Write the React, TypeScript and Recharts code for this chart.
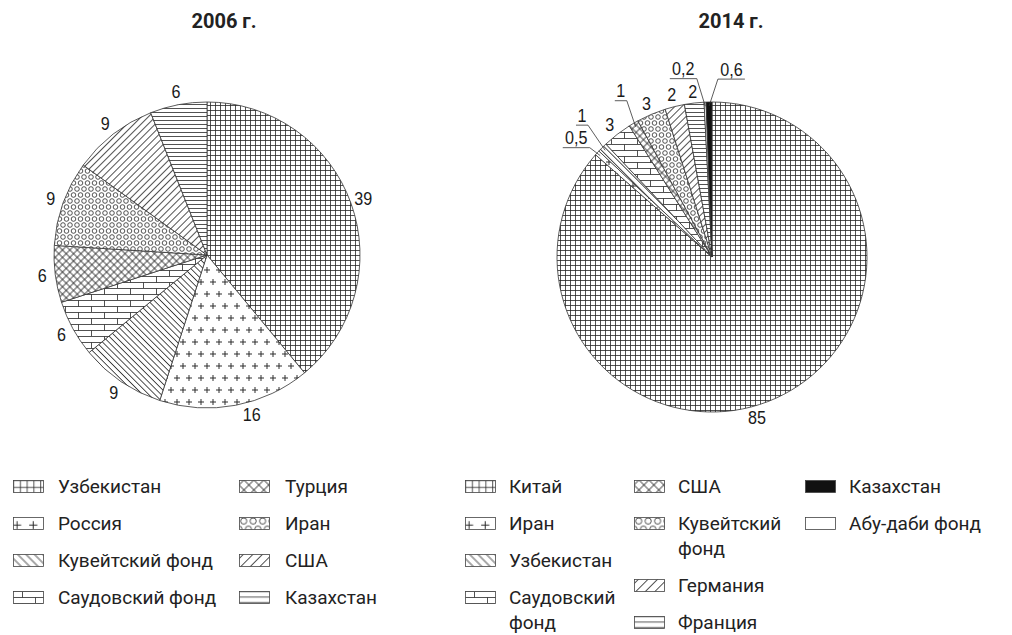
import React from 'react';
import { PieChart, Pie, Cell } from 'recharts';

// ---------- data ----------
const names2006 = ['Узбекистан', 'Россия', 'Кувейтский фонд', 'Саудовский фонд', 'Турция', 'Иран', 'США', 'Казахстан'];
const values2006 = [39, 16, 9, 6, 6, 9, 9, 6];
const fills2006 = ['grid', 'plus', 'back', 'brick', 'cross', 'circles', 'slash', 'hlines'];

const names2014 = ['Китай', 'Иран', 'Узбекистан', 'Саудовский фонд', 'США', 'Кувейтский фонд', 'Германия', 'Франция', 'Абу-даби фонд', 'Казахстан'];
const values2014 = [85, 0.5, 1, 3, 1, 3, 2, 2, 0.2, 0.6];
const fills2014 = ['grid', 'plus', 'back', 'brick', 'cross', 'circles', 'slash', 'hlines', 'white', 'black'];
const legendText2014 = ['Китай', 'Иран', 'Узбекистан', 'Саудовский\nфонд', 'США', 'Кувейтский\nфонд', 'Германия', 'Франция', 'Абу-даби фонд', 'Казахстан'];

const titles = ['2006 г.', '2014 г.'];

const legendCols2006 = [[0, 1, 2, 3], [4, 5, 6, 7]];
const legendCols2014 = [[0, 1, 2, 3], [4, 5, 6, 7], [9, 8]];

// ---------- layout helpers ----------
const RAD = Math.PI / 180;
const fmt = (v: number) => String(v).replace('.', ',');
const LABEL_FONT = "'Liberation Sans', Arimo, Arial, sans-serif";
const TEXT_FONT = "Roboto, 'Noto Sans', sans-serif";

const data2006 = names2006.map((name, i) => ({ name, value: values2006[i] }));
const data2014 = names2014.map((name, i) => ({ name, value: values2014[i] }));

// label angle nudges (degrees, counter‑clockwise) for a couple of plain labels
const nudge2006: Record<number, number> = { 1: 4.8 };
const nudge2014: Record<number, number> = { 0: -8.7 };
// leader-line labels for the thin 2014 slices
const leaderSpec: Record<number, { dr: number; da: number; dir: number }> = {
  1: { dr: 9, da: 0.4, dir: -1 },
  2: { dr: 26, da: -1.8, dir: -1 },
  4: { dr: 23, da: -1.8, dir: -1 },
  8: { dr: 24, da: 2.3, dir: -1 },
  9: { dr: 23, da: -3, dir: 1 },
};

const NarrowText = ({ x, y, children }: { x: number; y: number; children: React.ReactNode }) => (
  <text transform={`translate(${x},${y}) scale(0.85,1)`} x={0} y={0} textAnchor="middle" dominantBaseline="central"
    fontFamily={LABEL_FONT} fontSize={19} fill="#1a1a1a">
    {children}
  </text>
);

const plainLabel = (values: number[], nudge: Record<number, number>, gap: number) => (props: any) => {
  const { cx, cy, midAngle, outerRadius, index } = props;
  const a = (midAngle + (nudge[index] || 0)) * RAD;
  const r = outerRadius + gap;
  const x = cx + r * Math.cos(a);
  const y = cy - r * Math.sin(a);
  return (
    <g key={`l${index}`}>
      <NarrowText x={x} y={y}>{fmt(values[index])}</NarrowText>
    </g>
  );
};

const label2014 = (props: any) => {
  const { cx, cy, midAngle, outerRadius, index } = props;
  const spec = leaderSpec[index];
  if (!spec) return plainLabel(values2014, nudge2014, 12)(props);
  const a0 = midAngle * RAD;
  const sx = cx + (outerRadius - 4) * Math.cos(a0);
  const sy = cy - (outerRadius - 4) * Math.sin(a0);
  const a1 = (midAngle + spec.da) * RAD;
  const r1 = outerRadius + spec.dr;
  const ex = cx + r1 * Math.cos(a1);
  const ey = cy - r1 * Math.sin(a1);
  const txt = fmt(values2014[index]);
  const len = txt.length === 1 ? 12 : 27;
  const ux = ex + spec.dir * len;
  return (
    <g key={`l${index}`}>
      <polyline points={`${sx},${sy} ${ex},${ey} ${ux},${ey}`} fill="none" stroke="#333" strokeWidth={0.8} />
      <NarrowText x={(ex + ux) / 2} y={ey - 10}>{txt}</NarrowText>
    </g>
  );
};

// ---------- patterns ----------
const STROKE = '#262626';
const makePatterns = (prefix: string, s: number) => {
  const sw = 0.8 / s;
  const t = (extra = '') => `${extra} scale(${s})`.trim();
  return [
    <pattern key="grid" id={prefix + 'grid'} width={5} height={5} patternUnits="userSpaceOnUse" patternTransform={t()}>
      <rect width={5} height={5} fill="#fff" />
      <path d="M0 0.5 H5 M0.5 0 V5" stroke={STROKE} strokeWidth={sw} />
    </pattern>,
    <pattern key="plus" id={prefix + 'plus'} width={12} height={24} patternUnits="userSpaceOnUse" patternTransform={t()}>
      <rect width={12} height={24} fill="#fff" />
      <path d="M0 6 H6 M3 3 V9 M6 18 H12 M9 15 V21" stroke={STROKE} strokeWidth={sw * 1.2} />
    </pattern>,
    <pattern key="back" id={prefix + 'back'} width={4.4} height={4.4} patternUnits="userSpaceOnUse" patternTransform={t('rotate(-45)')}>
      <rect width={4.4} height={4.4} fill="#fff" />
      <line x1={2.2} y1={0} x2={2.2} y2={4.4} stroke={STROKE} strokeWidth={sw} />
    </pattern>,
    <pattern key="slash" id={prefix + 'slash'} width={5} height={5} patternUnits="userSpaceOnUse" patternTransform={t('rotate(45)')}>
      <rect width={5} height={5} fill="#fff" />
      <line x1={2.5} y1={0} x2={2.5} y2={5} stroke={STROKE} strokeWidth={sw} />
    </pattern>,
    <pattern key="cross" id={prefix + 'cross'} width={5.2} height={5.2} patternUnits="userSpaceOnUse" patternTransform={t('rotate(45)')}>
      <rect width={5.2} height={5.2} fill="#fff" />
      <path d="M0 2.6 H5.2 M2.6 0 V5.2" stroke={STROKE} strokeWidth={sw} />
    </pattern>,
    <pattern key="brick" id={prefix + 'brick'} width={26} height={12} patternUnits="userSpaceOnUse"
      patternTransform={prefix === 'l-' ? 'translate(9,0)' : t()}>
      <rect width={26} height={12} fill="#fff" />
      <path d="M0 0.5 H26 M0 6.5 H26 M0.5 0.5 V6.5 M13.5 6.5 V12.5" stroke={STROKE} strokeWidth={prefix === 'l-' ? 0.8 : sw} />
    </pattern>,
    <pattern key="circles" id={prefix + 'circles'} width={7} height={12} patternUnits="userSpaceOnUse" patternTransform={t()}>
      <rect width={7} height={12} fill="#fff" />
      <circle cx={3.5} cy={3} r={2.3} fill="none" stroke={STROKE} strokeWidth={sw} />
      <circle cx={0} cy={9} r={2.3} fill="none" stroke={STROKE} strokeWidth={sw} />
      <circle cx={7} cy={9} r={2.3} fill="none" stroke={STROKE} strokeWidth={sw} />
    </pattern>,
    <pattern key="hlines" id={prefix + 'hlines'} width={4} height={4} patternUnits="userSpaceOnUse" patternTransform={t()}>
      <rect width={4} height={4} fill="#fff" />
      <line x1={0} y1={0.5} x2={4} y2={0.5} stroke={STROKE} strokeWidth={sw} />
    </pattern>,
    <pattern key="white" id={prefix + 'white'} width={4} height={4} patternUnits="userSpaceOnUse">
      <rect width={4} height={4} fill="#fff" />
    </pattern>,
    <pattern key="black" id={prefix + 'black'} width={4} height={4} patternUnits="userSpaceOnUse">
      <rect width={4} height={4} fill="#111" />
    </pattern>,
  ];
};

// ---------- legend ----------
const LegendItem = ({ fill, label, gap }: { fill: string; label: string; gap: number }) => (
  <div style={{ display: 'flex', alignItems: 'flex-start', marginBottom: 12 }}>
    <svg width={32} height={14} style={{ marginTop: 6, flex: 'none', display: 'block' }}>
      <rect x={0.5} y={0.5} width={30} height={12} fill={`url(#l-${fill})`} stroke="#444" strokeWidth={0.8} />
    </svg>
    <div style={{ marginLeft: gap, lineHeight: '25px', fontSize: 19, whiteSpace: 'pre-line', color: '#222' }}>{label}</div>
  </div>
);

const LegendColumn = ({ left, top, items, gap }: { left: number; top: number; items: { fill: string; label: string }[]; gap: number }) => (
  <div style={{ position: 'absolute', left, top, display: 'flex', flexDirection: 'column' }}>
    {items.map((it) => <LegendItem key={it.label} fill={it.fill} label={it.label} gap={gap} />)}
  </div>
);

export default function App() {
  const lx2006 = [13, 239];
  const lx2014 = [465, 634, 805];
  return (
    <div style={{ position: 'absolute', left: 0, top: 0, width: 1012, height: 635, background: '#fff', overflow: 'hidden', fontFamily: TEXT_FONT }}>
      <svg width={0} height={0} style={{ position: 'absolute' }}>
        <defs>
          {makePatterns('p-', 1)}
          {makePatterns('l-', 1.35)}
        </defs>
      </svg>

      <div style={{ position: 'absolute', left: 164, top: 8, width: 120, textAlign: 'center', fontWeight: 700, fontSize: 20, lineHeight: '26px', color: '#222' }}>{titles[0]}</div>
      <div style={{ position: 'absolute', left: 671, top: 8, width: 120, textAlign: 'center', fontWeight: 700, fontSize: 20, lineHeight: '26px', color: '#222' }}>{titles[1]}</div>

      <div style={{ position: 'absolute', left: 0, top: 0 }}>
        <PieChart width={1012} height={460}>
          <Pie data={data2006} dataKey="value" nameKey="name" cx={202} cy={250} outerRadius={153}
            startAngle={90} endAngle={-270} isAnimationActive={false} labelLine={false}
            label={plainLabel(values2006, nudge2006, 13)}>
            {data2006.map((d, i) => (
              <Cell key={d.name} fill={`url(#p-${fills2006[i]})`} stroke="#333" strokeWidth={0.8} />
            ))}
          </Pie>
          <Pie data={data2014} dataKey="value" nameKey="name" cx={707} cy={252} outerRadius={155}
            startAngle={90} endAngle={-270} isAnimationActive={false} labelLine={false}
            label={label2014}>
            {data2014.map((d, i) => (
              <Cell key={d.name} fill={`url(#p-${fills2014[i]})`} stroke="#333" strokeWidth={0.8} />
            ))}
          </Pie>
        </PieChart>
      </div>

      {legendCols2006.map((col, c) => (
        <LegendColumn key={`a${c}`} left={lx2006[c]} top={474} gap={c === 0 ? 13 : 14}
          items={col.map((i) => ({ fill: fills2006[i], label: names2006[i] }))} />
      ))}
      {legendCols2014.map((col, c) => (
        <LegendColumn key={`b${c}`} left={lx2014[c]} top={474} gap={12}
          items={col.map((i) => ({ fill: fills2014[i], label: legendText2014[i] }))} />
      ))}
    </div>
  );
}
